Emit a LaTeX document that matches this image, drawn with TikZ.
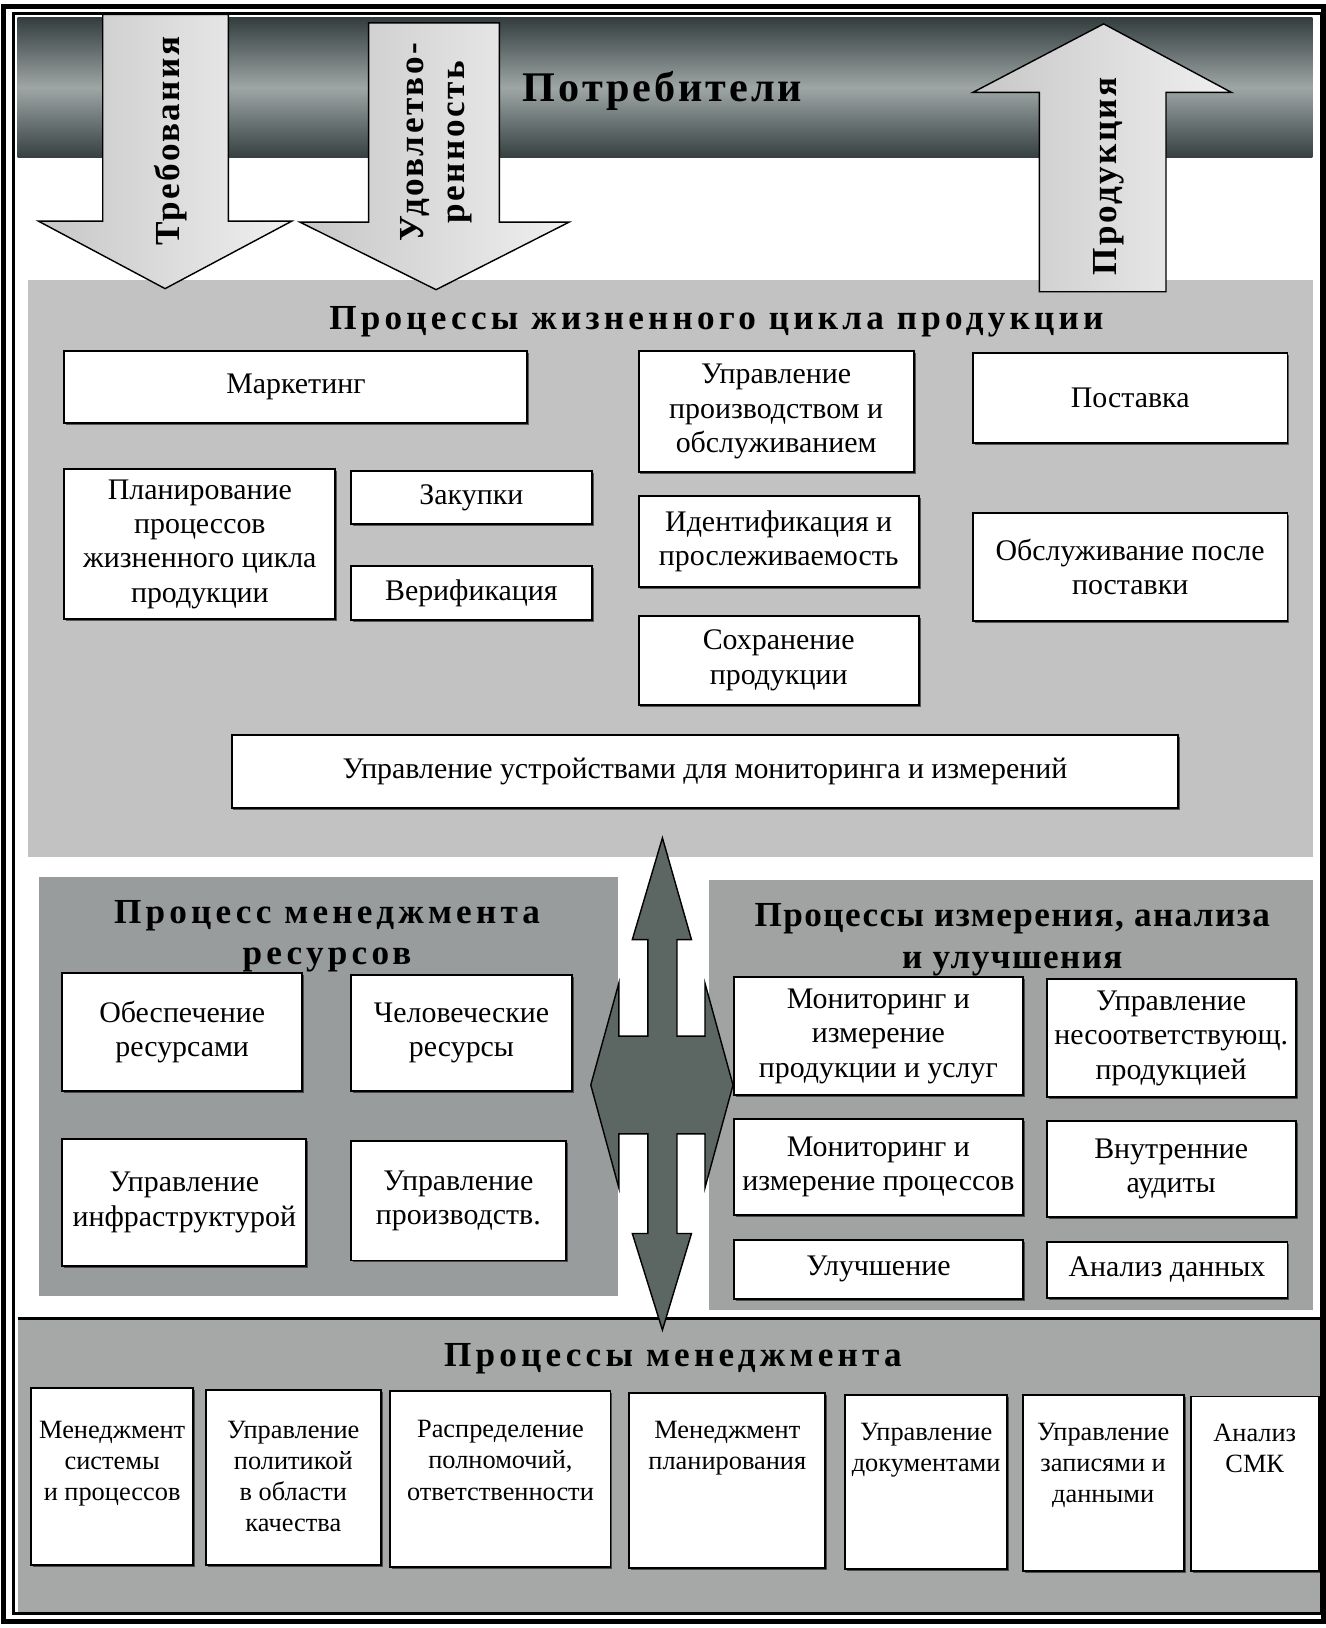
\documentclass[tikz,border=0pt]{standalone}
\usepackage{fontspec}
\setmainfont{Liberation Serif}
\newfontfamily\hdfont[LetterSpace=12]{Liberation Serif}
\newfontfamily\hdfontn[LetterSpace=4]{Liberation Serif}
\newfontfamily\hdfontm[LetterSpace=7]{Liberation Serif}
\usetikzlibrary{positioning,shadows}

\begin{document}
\begin{tikzpicture}[x=0.5905pt,y=-0.5905pt,
  box/.style={draw=black,line width=1.1pt,fill=white,inner sep=0pt,align=center,
    font=\fontsize{17}{19.5}\selectfont,
    drop shadow={shadow xshift=1.1pt,shadow yshift=-1.1pt,fill=black,opacity=0.55}},
  bsize/.style 2 args={minimum width=#1*0.5905pt,minimum height=#2*0.5905pt},
  mtxt/.style={align=center,inner sep=0pt,font=\fontsize{15}{17.7}\selectfont},
  ttl/.style={align=center,inner sep=0pt,font=\hdfont\bfseries\fontsize{20}{23.5}\selectfont},
  vtxt/.style={align=center,inner sep=0pt,rotate=90,font=\hdfontm\bfseries\fontsize{20}{23}\selectfont},
  bigarr/.style={draw=black,line width=0.8pt,left color=cwa1,right color=cwa2},
  ]
\definecolor{cband1}{rgb}{0.2,0.24,0.24}
\definecolor{cband2}{rgb}{0.62,0.65,0.65}
\definecolor{cband3}{rgb}{0.21,0.25,0.25}
\definecolor{cwa1}{rgb}{0.78,0.78,0.78}
\definecolor{cwa2}{rgb}{0.94,0.94,0.94}
\definecolor{clc}{rgb}{0.76,0.76,0.76}
\definecolor{cres}{rgb}{0.6,0.61,0.61}
\definecolor{cmeas}{rgb}{0.63,0.64,0.64}
\definecolor{cbot}{rgb}{0.65,0.66,0.66}
\definecolor{cdbl}{rgb}{0.36,0.4,0.39}
%
\useasboundingbox (0,0) rectangle (1277,1568);
\fill[white] (0,0) rectangle (1277,1568);
\fill[top color=cband1,bottom color=cband3,middle color=cband2] (17,17) rectangle (1264,152);
\fill[clc] (27,270) rectangle (1265,825);
\fill[cres] (38,845) rectangle (595,1248);
\fill[cmeas] (683,848) rectangle (1265,1262);
\fill[cbot] (17,1270) rectangle (1272,1554);
\draw[line width=2pt] (17,1270) -- (1272,1270);
%
\draw[bigarr] (99,14) -- (220,14) -- (220,213) -- (281,213) -- (159,278) -- (37,213) -- (99,213) -- cycle;
\draw[bigarr] (355,22) -- (481,22) -- (481,214) -- (548,214) -- (420,279) -- (289,214) -- (355,214) -- cycle;
\draw[bigarr] (1001,281) -- (1123,281) -- (1123,89) -- (1186,89) -- (1063,23) -- (937,89) -- (1001,89) -- cycle;
\node (treb) [vtxt] at (164,136) {Требования};
\node (udov) [vtxt] at (420,137) {Удовлетво-\\ренность};
\node (prod) [vtxt] at (1068,170) {Продукция};
\node (potr) [align=center,inner sep=0pt,font=\hdfontm\bfseries\fontsize{24}{28}\selectfont] at (638,88) {Потребители};
%
\node (lctitle) [ttl] at (690,310) {Процессы жизненного цикла продукции};
\node (mkt) [box,bsize={446}{69}] at (285,372.5) {Маркетинг};
\node (uprpr) [box,bsize={265}{117}] at (747.5,396.5) {Управление\\производством и\\обслуживанием};
\node (post) [box,bsize={303}{87}] at (1088.5,383.5) {Поставка};
\node (plan) [box,bsize={261}{144}] at (192.5,524) {Планирование\\процессов\\жизненного цикла\\продукции};
\node (zak) [box,bsize={232}{51}] at (454,479.5) {Закупки};
\node (ver) [box,bsize={232}{52}] at (454,571) {Верификация};
\node (ident) [box,bsize={270}{87}] at (750,521.5) {Идентификация и\\прослеживаемость};
\node (obsl) [box,bsize={303}{104}] at (1088.5,546) {Обслуживание после\\поставки};
\node (sohr) [box,bsize={270}{86}] at (750,636) {Сохранение\\продукции};
\node (ustr) [box,bsize={912}{70}] at (679,743) {Управление устройствами для мониторинга и измерений};
%
\node (restitle) [ttl] at (315,902) {Процесс менеджмента\\ресурсов};
\node (res1) [box,bsize={231}{114}] at (175.5,994) {Обеспечение\\ресурсами};
\node (res2) [box,bsize={213}{112}] at (444.5,995) {Человеческие\\ресурсы};
\node (res3) [box,bsize={235}{122}] at (177.5,1158) {Управление\\инфраструктурой};
\node (res4) [box,bsize={207}{115}] at (441.5,1156.5) {Управление\\производств.};
%
\node (meastitle) [ttl,font=\hdfontn\bfseries\fontsize{20}{23.5}\selectfont] at (975,905) {Процессы измерения, анализа\\и улучшения};
\node (izm1) [box,bsize={278}{114}] at (846,998) {Мониторинг и\\измерение\\продукции и услуг};
\node (izm2) [box,bsize={240}{114}] at (1128,1000) {Управление\\несоответствующ.\\продукцией};
\node (izm3) [box,bsize={278}{92}] at (846,1124) {Мониторинг и\\измерение процессов};
\node (izm4) [box,bsize={240}{92}] at (1128,1126) {Внутренние\\аудиты};
\node (izm5) [box,bsize={278}{57}] at (846,1222.5) {Улучшение};
\node (izm6) [box,bsize={232}{54}] at (1124,1223) {Анализ данных};
%
\fill[cdbl,draw=black,line width=0.8pt] (638,807) -- (666,905) -- (652,905) -- (652,998) -- (679,998) -- (679,947)
  -- (706,1045) -- (679,1144) -- (679,1092) -- (652,1092) -- (652,1188) -- (666,1188) -- (638,1281)
  -- (609,1188) -- (624,1188) -- (624,1092) -- (596,1092) -- (596,1144) -- (569,1045) -- (596,947)
  -- (596,998) -- (624,998) -- (624,905) -- (609,905) -- cycle;
%
\node (bottitle) [ttl] at (648,1309) {Процессы менеджмента};
\node (m1) [box,bsize={156}{170}] at (108,1422) {};
\node (m2) [box,bsize={169}{168}] at (282.5,1423) {};
\node (m3) [box,bsize={212}{169}] at (482,1424.5) {};
\node (m4) [box,bsize={189}{168}] at (700.5,1426) {};
\node (m5) [box,bsize={156}{167}] at (892,1427.5) {};
\node (m6) [box,bsize={155}{169}] at (1062.5,1428.5) {};
\node (m7) [box,bsize={123}{168}] at (1208.5,1429) {};
\node (m1t) [mtxt, below=19pt of m1.north] {Менеджмент\\системы\\и процессов};
\node (m2t) [mtxt, below=18pt of m2.north] {Управление\\политикой\\в области\\качества};
\node (m3t) [mtxt, below=17pt of m3.north] {Распределение\\полномочий,\\ответственности};
\node (m4t) [mtxt, below=16pt of m4.north] {Менеджмент\\планирования};
\node (m5t) [mtxt, below=16pt of m5.north] {Управление\\документами};
\node (m6t) [mtxt, below=16pt of m6.north] {Управление\\записями и\\данными};
\node (m7t) [mtxt, below=16pt of m7.north] {Анализ\\СМК};
%
\draw[line width=3pt] (3.5,6.5) rectangle (1275,1562);
\draw[line width=1.2pt] (13,13) rectangle (1272,1554);
\end{tikzpicture}
\end{document}
